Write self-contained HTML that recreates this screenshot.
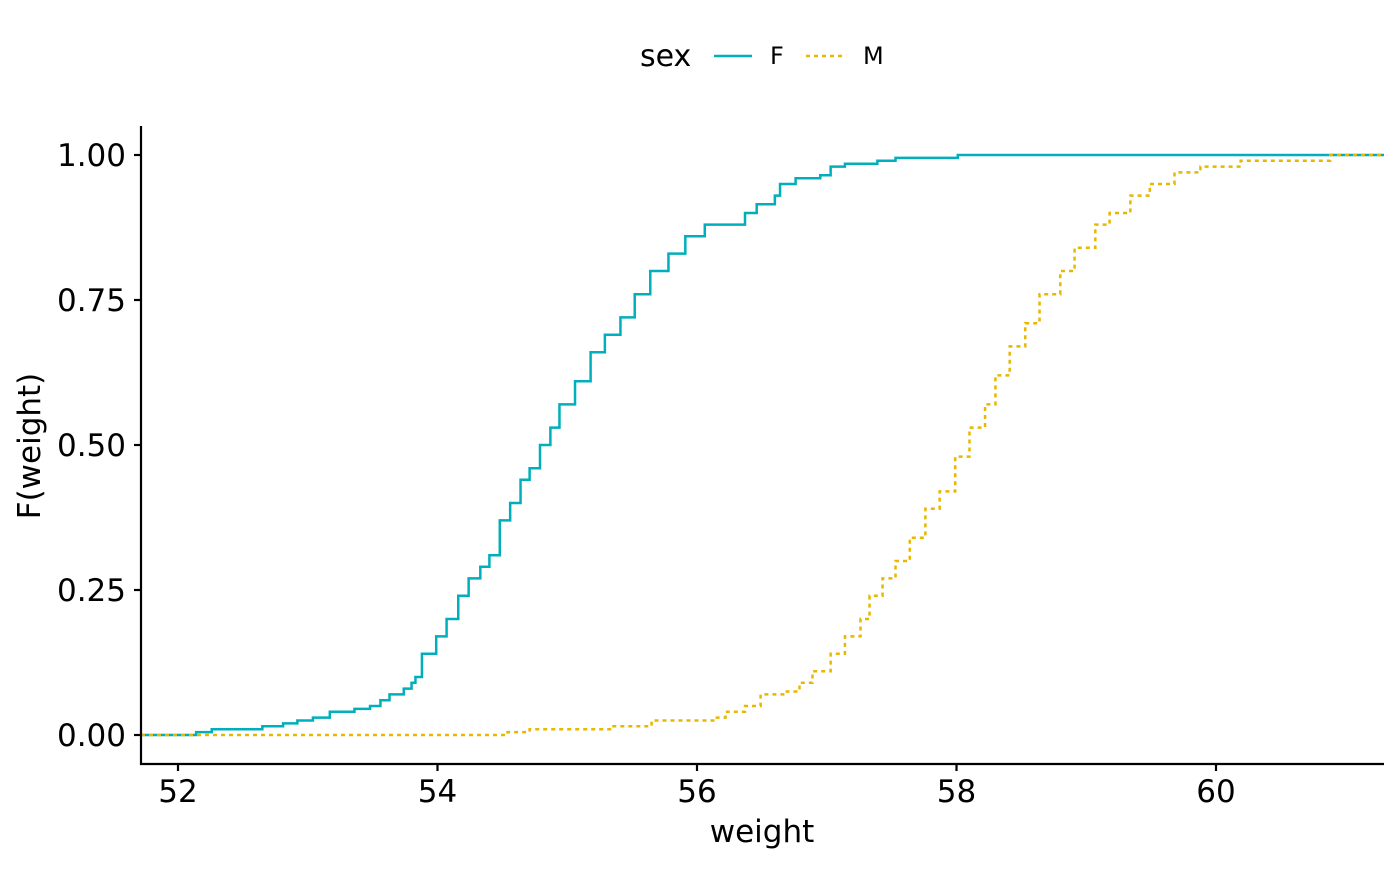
<!DOCTYPE html>
<html><head><meta charset="utf-8"><style>
html,body{margin:0;padding:0;background:#fff;}
svg text{font-family:"DejaVu Sans","Liberation Sans",sans-serif;}
</style></head><body>
<svg id="chart" width="1400" height="866" xmlns="http://www.w3.org/2000/svg">
<g>
<text x="640" y="66" font-size="30">sex</text>
<line x1="714" y1="56" x2="752" y2="56" stroke="#00AFBB" stroke-width="2.5"/>
<text x="770" y="64" font-size="24">F</text>
<line x1="806" y1="56" x2="844" y2="56" stroke="#E7B800" stroke-width="2.5" stroke-dasharray="4,4"/>
<text x="863" y="64" font-size="24">M</text>
</g>
<g id="plot"></g>
<text x="762" y="842" font-size="31" text-anchor="middle">weight</text>
<text transform="translate(40,446) rotate(-90)" font-size="31" text-anchor="middle">F(weight)</text>
</svg>
<script>
const fWeights=[52.14,52.26,52.65,52.81,52.92,53.04,53.17,53.36,53.48,53.56,53.63,53.74,53.80,53.83,53.88,53.99,54.07,54.16,54.24,54.33,54.40,54.48,54.56,54.64,54.71,54.79,54.87,54.94,55.06,55.18,55.29,55.41,55.52,55.64,55.78,55.91,56.06,56.37,56.46,56.60,56.64,56.76,56.95,57.03,57.14,57.39,57.53,58.01];
const fValues=[0.005,0.01,0.015,0.02,0.025,0.03,0.04,0.045,0.05,0.06,0.07,0.08,0.09,0.1,0.14,0.17,0.2,0.24,0.27,0.29,0.31,0.37,0.4,0.44,0.46,0.5,0.53,0.57,0.61,0.66,0.69,0.72,0.76,0.8,0.83,0.86,0.88,0.9,0.915,0.93,0.95,0.96,0.965,0.98,0.985,0.99,0.995,1.0];
const mWeights=[54.54,54.71,55.33,55.65,56.14,56.22,56.37,56.49,56.68,56.79,56.89,57.03,57.14,57.26,57.33,57.43,57.53,57.64,57.76,57.87,57.99,58.10,58.22,58.30,58.41,58.53,58.64,58.80,58.91,59.07,59.18,59.34,59.49,59.68,59.88,60.19,60.88];
const mValues=[0.005,0.01,0.015,0.025,0.03,0.04,0.05,0.07,0.075,0.09,0.11,0.14,0.17,0.2,0.24,0.27,0.3,0.34,0.39,0.42,0.48,0.53,0.57,0.62,0.67,0.71,0.76,0.8,0.84,0.88,0.9,0.93,0.95,0.97,0.98,0.99,1.0];
const xTicks=[52,54,56,58,60];
const yTicks=[0,0.25,0.5,0.75,1.0];
const yTickLabels=["0.00","0.25","0.50","0.75","1.00"];

const X0=141,X1=1384,Y0=764,Ytop=126;
const xs=w=>178+(w-52)*129.75;
const ys=v=>735-v*580;
const NS="http://www.w3.org/2000/svg";
const plot=document.getElementById('plot');
function mk(tag,attrs){const e=document.createElementNS(NS,tag);for(const k in attrs)e.setAttribute(k,attrs[k]);plot.appendChild(e);return e;}
function stepPath(ws,vs){let d=`M${X0},${ys(0)}`;for(let i=0;i<ws.length;i++){d+=` H${xs(ws[i])} V${ys(vs[i])}`;}d+=` H${X1}`;return d;}
const pf=mk('path',{d:stepPath(fWeights,fValues),fill:'none',stroke:'#00AFBB','stroke-width':2.5});


const pm=mk('path',{d:stepPath(mWeights,mValues),fill:'none',stroke:'#E7B800','stroke-width':2.5,'stroke-dasharray':'4,4'});


const ax=mk('path',{d:`M${X0},${Ytop} V${Y0} H${X1}`,fill:'none',stroke:'#000','stroke-width':2.2});


xTicks.forEach(t=>{
 const l=mk('line',{x1:xs(t),x2:xs(t),y1:Y0,y2:Y0+7,stroke:'#000','stroke-width':2.2});
 
 
 const tx=mk('text',{x:xs(t),y:Y0+38,'font-size':31,'text-anchor':'middle'});tx.textContent=t;
 
 
});
yTicks.forEach((t,i)=>{
 const l=mk('line',{x1:X0-7,x2:X0,y1:ys(t),y2:ys(t),stroke:'#000','stroke-width':2.2});
 
 
 const tx=mk('text',{x:X0-15,y:ys(t)+11,'font-size':31,'text-anchor':'end'});tx.textContent=yTickLabels[i];
 
 
});
</script>
</body></html>
